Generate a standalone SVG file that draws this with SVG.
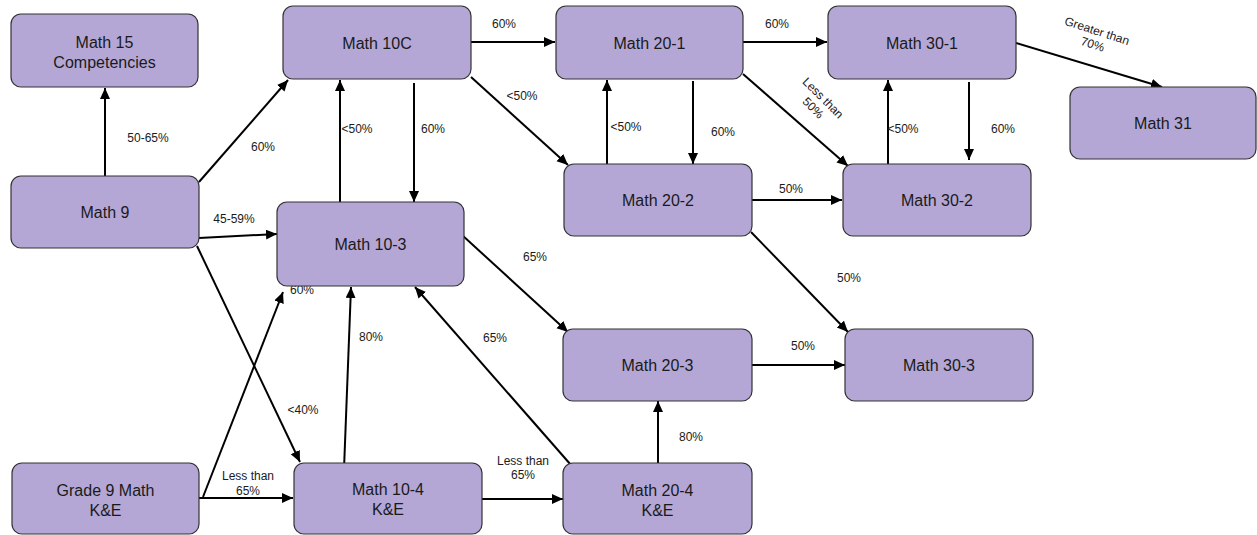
<svg xmlns="http://www.w3.org/2000/svg" width="1257" height="535" viewBox="0 0 1257 535">
<style>
.n rect{fill:#b4a7d6;stroke:#333;stroke-width:1.2}
.n text{font-family:"Liberation Sans",Arial,sans-serif;font-size:16px;fill:#1a1a1a;text-anchor:middle}
#connectors line{stroke:#000;stroke-width:2;marker-end:url(#ah)}
.l{font-family:"Liberation Sans",Arial,sans-serif;font-size:12px;fill:#1a1a1a;text-anchor:middle}
</style>
<defs>
<marker id="ah" markerUnits="userSpaceOnUse" markerWidth="12" markerHeight="12" refX="11" refY="5" orient="auto">
<path d="M0,0 L11,5 L0,10 Z" fill="#000"/>
</marker>
</defs>
<rect width="1257" height="535" fill="#fff"/>
<g id="connectors">
<line x1="105" y1="176" x2="105" y2="88"/>
<line x1="199" y1="182" x2="288" y2="80"/>
<line x1="199" y1="238" x2="277" y2="234"/>
<line x1="197" y1="246" x2="300" y2="462"/>
<line x1="203" y1="497" x2="283" y2="292"/>
<line x1="199" y1="498" x2="293" y2="498"/>
<line x1="344" y1="469" x2="351" y2="287"/>
<line x1="482" y1="499" x2="563" y2="499"/>
<line x1="571" y1="465" x2="415" y2="287"/>
<line x1="340" y1="202" x2="340" y2="80"/>
<line x1="414" y1="83" x2="414" y2="202"/>
<line x1="471" y1="42" x2="555" y2="42"/>
<line x1="471" y1="77" x2="568" y2="165"/>
<line x1="462" y1="235" x2="568" y2="332"/>
<line x1="743" y1="42" x2="827" y2="42"/>
<line x1="607" y1="164" x2="607" y2="80"/>
<line x1="693" y1="81" x2="693" y2="164"/>
<line x1="743" y1="74" x2="848" y2="166"/>
<line x1="752" y1="200" x2="842" y2="200"/>
<line x1="1016" y1="43" x2="1162" y2="87"/>
<line x1="888" y1="164" x2="888" y2="80"/>
<line x1="969" y1="82" x2="969" y2="160"/>
<line x1="751" y1="232" x2="848" y2="332"/>
<line x1="752" y1="365" x2="845" y2="365"/>
<line x1="658" y1="463" x2="658" y2="401"/>
<g id="labels">
<text class="l" x="148" y="142">50-65%</text>
<text class="l" x="263" y="151">60%</text>
<text class="l" x="234" y="223">45-59%</text>
<text class="l" x="303" y="414">&lt;40%</text>
<text class="l" x="302" y="294">60%</text>
<text class="l" x="248" y="480">Less than</text>
<text class="l" x="248" y="495">65%</text>
<text class="l" x="371" y="341">80%</text>
<text class="l" x="523" y="465">Less than</text>
<text class="l" x="523" y="479">65%</text>
<text class="l" x="495" y="342">65%</text>
<text class="l" x="357" y="133">&lt;50%</text>
<text class="l" x="433" y="133">60%</text>
<text class="l" x="504" y="28">60%</text>
<text class="l" x="522" y="100">&lt;50%</text>
<text class="l" x="535" y="261">65%</text>
<text class="l" x="777" y="28">60%</text>
<text class="l" x="626" y="131">&lt;50%</text>
<text class="l" x="723" y="136">60%</text>
<g transform="translate(823,98) rotate(45)"><text class="l" x="0" y="4">Less than</text><text class="l" x="0" y="18">50%</text></g>
<text class="l" x="791" y="193">50%</text>
<g transform="translate(1097,31) rotate(18)"><text class="l" x="0" y="4">Greater than</text><text class="l" x="0" y="18">70%</text></g>
<text class="l" x="903" y="133">&lt;50%</text>
<text class="l" x="1003" y="133">60%</text>
<text class="l" x="849" y="282">50%</text>
<text class="l" x="803" y="350">50%</text>
<text class="l" x="691" y="441">80%</text>
</g>
</g>
<g id="math15" class="n"><rect x="11" y="14" width="187" height="73" rx="10"/><text x="104.5" y="48">Math 15</text><text x="104.5" y="68">Competencies</text></g>
<g id="math10c" class="n"><rect x="283" y="6" width="188" height="73" rx="10"/><text x="377" y="49">Math 10C</text></g>
<g id="math20-1" class="n"><rect x="556" y="6" width="187" height="73" rx="10"/><text x="649.5" y="49">Math 20-1</text></g>
<g id="math30-1" class="n"><rect x="828" y="6" width="188" height="73" rx="10"/><text x="922" y="49">Math 30-1</text></g>
<g id="math31" class="n"><rect x="1070" y="87" width="186" height="72" rx="10"/><text x="1163" y="129">Math 31</text></g>
<g id="math9" class="n"><rect x="11" y="176" width="188" height="72" rx="10"/><text x="105" y="218">Math 9</text></g>
<g id="math10-3" class="n"><rect x="277" y="202" width="187" height="84" rx="10"/><text x="370.5" y="250">Math 10-3</text></g>
<g id="math20-2" class="n"><rect x="564" y="164" width="188" height="72" rx="10"/><text x="658" y="206">Math 20-2</text></g>
<g id="math30-2" class="n"><rect x="843" y="164" width="188" height="72" rx="10"/><text x="937" y="206">Math 30-2</text></g>
<g id="math20-3" class="n"><rect x="563" y="329" width="189" height="72" rx="10"/><text x="657.5" y="371">Math 20-3</text></g>
<g id="math30-3" class="n"><rect x="845" y="329" width="188" height="72" rx="10"/><text x="939" y="371">Math 30-3</text></g>
<g id="grade9ke" class="n"><rect x="12" y="463" width="187" height="71" rx="10"/><text x="105.5" y="496">Grade 9 Math</text><text x="105.5" y="516">K&amp;E</text></g>
<g id="math10-4" class="n"><rect x="294" y="463" width="188" height="71" rx="10"/><text x="388" y="495">Math 10-4</text><text x="388" y="515">K&amp;E</text></g>
<g id="math20-4" class="n"><rect x="563" y="463" width="189" height="71" rx="10"/><text x="657.5" y="496">Math 20-4</text><text x="657.5" y="516">K&amp;E</text></g>
</svg>
